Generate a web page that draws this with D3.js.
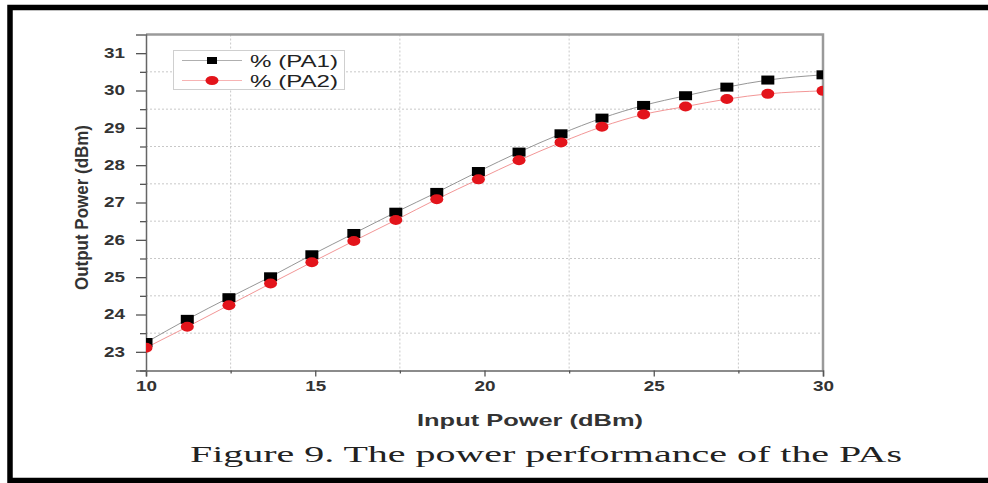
<!DOCTYPE html>
<html>
<head>
<meta charset="utf-8">
<script src="https://cdn.jsdelivr.net/npm/d3@7"></script>
<style>
  body { margin: 0; background: #fff; }
  svg { display: block; }
</style>
</head>
<body>
<div id="chart"></div>
<script>
const width = 988
const height = 483

// values
const inputPower = [10, 11.22, 12.45, 13.68, 14.9, 16.14, 17.38, 18.59, 19.82, 21.02, 22.26, 23.47, 24.7, 25.94, 27.16, 28.37, 30]
const pa1 = [23.25, 23.87, 24.45, 25.01, 25.6, 26.17, 26.74, 27.27, 27.83, 28.35, 28.84, 29.26, 29.6, 29.86, 30.09, 30.28, 30.42]
const pa2 = [23.11, 23.67, 24.25, 24.83, 25.4, 25.97, 26.53, 27.09, 27.62, 28.13, 28.61, 29.03, 29.36, 29.57, 29.77, 29.91, 29.99]
const seriesNames = ["% (PA1)", "% (PA2)"]
const xMajor = [10, 15, 20, 25, 30]
const xMinor = [12.5, 17.5, 22.5, 27.5]
const yMajor = [23, 24, 25, 26, 27, 28, 29, 30, 31]
const yMinor = [22.5, 23.5, 24.5, 25.5, 26.5, 27.5, 28.5, 29.5, 30.5]

const plotLeft = 146, plotRight = 823, plotTop = 34.5, plotBottom = 370.5

const svg = d3.select("#chart")
  .append("svg")
  .attr("width", width)
  .attr("height", height)

svg.append("rect").attr("width", width).attr("height", height).attr("fill", "#fff")

const xScale = d3.scaleLinear().domain([10, 30]).range([plotLeft, plotRight])
const yScale = d3.scaleLinear().domain([22.5, 31.5]).range([plotBottom, plotTop])

// dotted grid on the minor ticks
svg.append("g")
  .selectAll("line.vgrid")
  .data(xMinor)
  .join("line")
  .attr("class", "vgrid")
  .attr("x1", d => xScale(d)).attr("x2", d => xScale(d))
  .attr("y1", plotTop).attr("y2", plotBottom)
  .attr("stroke", "#c8c8c8").attr("stroke-dasharray", "2,2")

svg.append("g")
  .selectAll("line.hgrid")
  .data(yMinor.filter(d => d > 22.5))
  .join("line")
  .attr("class", "hgrid")
  .attr("x1", plotLeft).attr("x2", plotRight)
  .attr("y1", d => yScale(d)).attr("y2", d => yScale(d))
  .attr("stroke", "#c8c8c8").attr("stroke-dasharray", "2,2")

// frame top / right
svg.append("path")
  .attr("d", `M${plotLeft},${plotTop}H${plotRight}V${plotBottom}`)
  .attr("fill", "none").attr("stroke", "#9a9a9a").attr("stroke-width", 2.5)

// axes
svg.append("g")
  .attr("transform", `translate(0,${plotBottom})`)
  .call(d3.axisBottom(xScale).tickValues(xMajor).tickSize(6).tickPadding(5).tickFormat(d3.format("d")))
svg.append("g")
  .attr("transform", `translate(0,${plotBottom})`)
  .call(d3.axisBottom(xScale).tickValues(xMinor).tickSize(3).tickFormat(""))
  .call(g => g.select(".domain").remove())

svg.append("g")
  .attr("transform", `translate(${plotLeft},0)`)
  .call(d3.axisLeft(yScale).tickValues(yMajor).tickSize(10).tickPadding(11).tickFormat(d3.format("d")))
svg.append("g")
  .attr("transform", `translate(${plotLeft},0)`)
  .call(d3.axisLeft(yScale).tickValues(yMinor).tickSize(6).tickFormat(""))
  .call(g => g.select(".domain").remove())

svg.selectAll(".domain").attr("stroke", "#666").attr("stroke-width", 1.5)
svg.selectAll(".tick line").attr("stroke", "#555").attr("stroke-width", 1.3)
svg.selectAll(".tick text")
  .attr("fill", "#333")
  .attr("font-family", "Arial, 'Liberation Sans', sans-serif")
  .attr("font-weight", "bold")
  .attr("font-size", 14)
  .attr("textLength", 21)
  .attr("lengthAdjust", "spacingAndGlyphs")

// curves + markers, clipped to the plot area
svg.append("clipPath").attr("id", "plot-clip")
  .append("rect").attr("x", plotLeft).attr("y", plotTop).attr("width", plotRight - plotLeft).attr("height", plotBottom - plotTop)

const plot = svg.append("g").attr("clip-path", "url(#plot-clip)")

const lineFunc = d3.line()
  .x(d => xScale(d[0]))
  .y(d => yScale(d[1]))
  .curve(d3.curveMonotoneX)

const pts1 = inputPower.map((x, i) => [x, pa1[i]])
const pts2 = inputPower.map((x, i) => [x, pa2[i]])

plot.append("path").attr("d", lineFunc(pts1)).attr("fill", "none").attr("stroke", "#8a8a8a").attr("stroke-width", 0.9)
plot.append("path").attr("d", lineFunc(pts2)).attr("fill", "none").attr("stroke", "#f08a8a").attr("stroke-width", 0.9)

plot.selectAll("rect.pa1")
  .data(pts1)
  .join("rect")
  .attr("class", "pa1")
  .attr("x", d => xScale(d[0]) - 6.5)
  .attr("y", d => yScale(d[1]) - 4.5)
  .attr("width", 13).attr("height", 9)
  .attr("fill", "#000")

plot.selectAll("ellipse.pa2")
  .data(pts2)
  .join("ellipse")
  .attr("class", "pa2")
  .attr("cx", d => xScale(d[0]))
  .attr("cy", d => yScale(d[1]))
  .attr("rx", 6.5).attr("ry", 5)
  .attr("fill", "#e3141b")

// legend
const legend = svg.append("g")
legend.append("rect")
  .attr("x", 173.5).attr("y", 50.5).attr("width", 171).attr("height", 39)
  .attr("fill", "#fff").attr("stroke", "#cfcfcf")
const rowY = [60.5, 80.5]
legend.selectAll("line.leg")
  .data(seriesNames)
  .join("line")
  .attr("class", "leg")
  .attr("x1", 182).attr("x2", 242)
  .attr("y1", (d, i) => rowY[i]).attr("y2", (d, i) => rowY[i])
  .attr("stroke", (d, i) => i === 0 ? "#9a9a9a" : "#f5a0a0").attr("stroke-width", 0.8)
legend.append("rect").attr("x", 207).attr("y", rowY[0] - 3.5).attr("width", 10).attr("height", 7).attr("fill", "#000")
legend.append("ellipse").attr("cx", 212).attr("cy", rowY[1]).attr("rx", 6.5).attr("ry", 4.5).attr("fill", "#e3141b")
legend.selectAll("text.leg")
  .data(seriesNames)
  .join("text")
  .attr("class", "leg")
  .attr("x", 250)
  .attr("y", (d, i) => rowY[i] + 6)
  .attr("font-family", "Arial, 'Liberation Sans', sans-serif")
  .attr("font-size", 17)
  .attr("fill", "#222")
  .attr("textLength", 88)
  .attr("lengthAdjust", "spacingAndGlyphs")
  .text(d => d)

// axis titles
svg.append("text")
  .attr("x", 417).attr("y", 426)
  .attr("font-family", "Arial, 'Liberation Sans', sans-serif")
  .attr("font-weight", "bold").attr("font-size", 17).attr("fill", "#333")
  .attr("textLength", 226).attr("lengthAdjust", "spacingAndGlyphs")
  .text("Input Power (dBm)")

svg.append("text")
  .attr("transform", "translate(88,290) rotate(-90)")
  .attr("font-family", "Arial, 'Liberation Sans', sans-serif")
  .attr("font-weight", "bold").attr("font-size", 18).attr("fill", "#333")
  .attr("textLength", 165).attr("lengthAdjust", "spacingAndGlyphs")
  .text("Output Power (dBm)")

// caption
svg.append("text")
  .attr("x", 190).attr("y", 462)
  .attr("font-family", "'Times New Roman', 'Liberation Serif', serif")
  .attr("font-size", 24).attr("fill", "#222")
  .attr("textLength", 712).attr("lengthAdjust", "spacingAndGlyphs")
  .text("Figure 9. The power performance of the PAs")

// black page border (left, top, bottom)
svg.append("path")
  .attr("d", `M${width},7.5H10V480.5H${width}`)
  .attr("fill", "none").attr("stroke", "#000").attr("stroke-width", 5.5)
</script>
</body>
</html>
